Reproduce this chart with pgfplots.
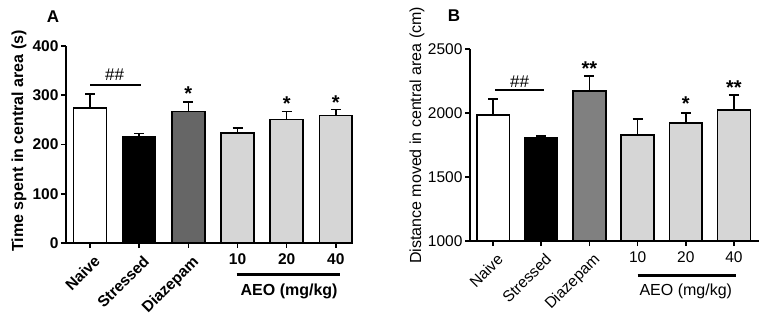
\documentclass[border=0pt]{standalone}
\usepackage{fontspec}
\setmainfont{Liberation Sans}
\usepackage{pgfplots}
\pgfplotsset{compat=1.18}
\definecolor{diaA}{HTML}{666666}
\definecolor{diaB}{HTML}{808080}
\definecolor{aeo}{HTML}{D6D6D6}
\pgfplotsset{
  myax/.style={
    scale only axis,
    axis x line*=bottom, axis y line*=left,
    axis line style={line width=1.6pt, black},
    every tick/.style={line width=1.6pt, black},
    major tick length=5pt, tick align=outside,
    xtick={0,1,2,3,4,5}, xticklabels={,,,10,20,40},
    /pgf/number format/assume math mode=true,
    /pgf/number format/1000 sep={},
    ybar, clip=false,
    every axis plot/.append style={bar shift=0pt, draw=black, line width=1.6pt},
    error bars/y dir=plus, error bars/y explicit,
    error bars/error bar style={line width=1.6pt, black},
    error bars/error mark options={rotate=90, mark size=5pt, line width=1.6pt, black},
  }
}
\begin{document}
\begin{tikzpicture}[x=1pt,y=1pt]
\useasboundingbox (0,0) rectangle (768,321);
% ---------------- Panel A
\begin{axis}[myax, at={(66pt,78pt)}, anchor=south west,
  width=286pt, height=197pt, xmin=-0.49, xmax=5.33, ymin=0, ymax=400,
  ytick={0,100,200,300,400}, bar width=0.67,
  ticklabel style={font=\fontsize{15.5}{17}\selectfont\bfseries},
  yticklabel style={xshift=1pt},
  xticklabel style={yshift=-2pt},
  ]
\addplot[fill=white] coordinates {(0,274) +- (0,28)};
\addplot[fill=black] coordinates {(1,216) +- (0,6)};
\addplot[fill=diaA] coordinates {(2,267) +- (0,19)};
\addplot[fill=aeo] coordinates {(3,223) +- (0,11)};
\addplot[fill=aeo] coordinates {(4,251) +- (0,16)};
\addplot[fill=aeo] coordinates {(5,259) +- (0,12)};
\draw[line width=1.6pt] (axis cs:0,321) -- (axis cs:1.03,321);
\node[font=\fontsize{17}{18}\selectfont] at (axis cs:0.5,342) {\#\#};
\node[font=\fontsize{20}{20}\selectfont\bfseries] at (axis cs:2,303) {*};
\node[font=\fontsize{20}{20}\selectfont\bfseries] at (axis cs:4,284) {*};
\node[font=\fontsize{20}{20}\selectfont\bfseries] at (axis cs:5,286) {*};
\node[rotate=45, anchor=north east, font=\fontsize{15.5}{17}\selectfont\bfseries, inner sep=1pt] at ([xshift=3pt,yshift=-10pt]axis cs:0,0) {Naive};
\node[rotate=45, anchor=north east, font=\fontsize{15.5}{17}\selectfont\bfseries, inner sep=1pt] at ([xshift=3pt,yshift=-10pt]axis cs:1,0) {Stressed};
\node[rotate=45, anchor=north east, font=\fontsize{15.5}{17}\selectfont\bfseries, inner sep=1pt] at ([xshift=3pt,yshift=-10pt]axis cs:2,0) {Diazepam};
\draw[line width=3pt] ([yshift=-32pt]axis cs:2.98,0) -- ([yshift=-32pt]axis cs:5.08,0);
\node[font=\fontsize{16}{18}\selectfont\bfseries] at ([yshift=-48pt]axis cs:4.05,0) {AEO (mg/kg)};
\node[rotate=90, font=\fontsize{16}{18}\selectfont\bfseries] at ([xshift=-47pt]rel axis cs:0,0.518) {Time spent in central area (s)};
\end{axis}
\node[font=\fontsize{17}{18}\selectfont\bfseries] at (53,304) {A};
% ---------------- Panel B
\begin{axis}[myax, at={(470pt,80pt)}, anchor=south west,
  width=289pt, height=192pt, xmin=-0.48, xmax=5.52, ymin=1000, ymax=2500,
  ytick={1000,1500,2000,2500}, bar width=0.68,
  ticklabel style={font=\fontsize{15.5}{17}\selectfont},
  yticklabel style={xshift=1pt},
  xticklabel style={yshift=-2pt},
  ]
\addplot[fill=white] coordinates {(0,1984) +- (0,125)};
\addplot[fill=black] coordinates {(1,1805) +- (0,15)};
\addplot[fill=diaB] coordinates {(2,2170) +- (0,118)};
\addplot[fill=aeo] coordinates {(3,1828) +- (0,125)};
\addplot[fill=aeo] coordinates {(4,1922) +- (0,78)};
\addplot[fill=aeo] coordinates {(5,2023) +- (0,117)};
\draw[line width=1.6pt] (axis cs:0.04,2180) -- (axis cs:1.06,2180);
\node[font=\fontsize{17}{18}\selectfont] at (axis cs:0.55,2245) {\#\#};
\node[font=\fontsize{20}{20}\selectfont\bfseries] at (axis cs:2,2345) {**};
\node[font=\fontsize{20}{20}\selectfont\bfseries] at (axis cs:4,2070) {*};
\node[font=\fontsize{20}{20}\selectfont\bfseries] at (axis cs:5,2196) {**};
\node[rotate=45, anchor=north east, font=\fontsize{15.5}{17}\selectfont, inner sep=1pt] at ([xshift=3pt,yshift=-10pt]axis cs:0,1000) {Naive};
\node[rotate=45, anchor=north east, font=\fontsize{15.5}{17}\selectfont, inner sep=1pt] at ([xshift=3pt,yshift=-10pt]axis cs:1,1000) {Stressed};
\node[rotate=45, anchor=north east, font=\fontsize{15.5}{17}\selectfont, inner sep=1pt] at ([xshift=3pt,yshift=-10pt]axis cs:2,1000) {Diazepam};
\draw[line width=3pt] ([yshift=-34pt]axis cs:3,1000) -- ([yshift=-34pt]axis cs:5.05,1000);
\node[font=\fontsize{16}{18}\selectfont] at ([yshift=-50pt]axis cs:4.0,1000) {AEO (mg/kg)};
\node[rotate=90, font=\fontsize{16}{18}\selectfont] at ([xshift=-53pt]rel axis cs:0,0.55) {Distance moved in central area (cm)};
\end{axis}
\node[font=\fontsize{17}{18}\selectfont\bfseries] at (454,305) {B};
\end{tikzpicture}
\end{document}
